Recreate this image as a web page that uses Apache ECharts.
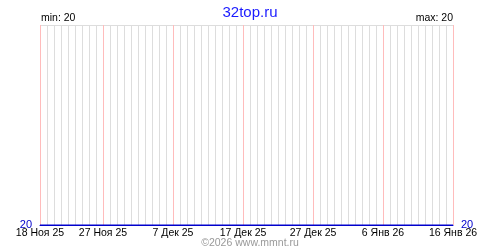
<!DOCTYPE html>
<html><head><meta charset="utf-8">
<script src="https://cdn.jsdelivr.net/npm/echarts@6/dist/echarts.min.js"></script>
<style>html,body{margin:0;padding:0;background:#fff}#c{width:500px;height:250px}</style>
</head><body><div id="c"></div>
<script>
var categories = [
 "18 Ноя 25","19 Ноя 25","20 Ноя 25","21 Ноя 25","22 Ноя 25","23 Ноя 25","24 Ноя 25","25 Ноя 25","26 Ноя 25","27 Ноя 25",
 "28 Ноя 25","29 Ноя 25","30 Ноя 25","1 Дек 25","2 Дек 25","3 Дек 25","4 Дек 25","5 Дек 25","6 Дек 25","7 Дек 25",
 "8 Дек 25","9 Дек 25","10 Дек 25","11 Дек 25","12 Дек 25","13 Дек 25","14 Дек 25","15 Дек 25","16 Дек 25","17 Дек 25",
 "18 Дек 25","19 Дек 25","20 Дек 25","21 Дек 25","22 Дек 25","23 Дек 25","24 Дек 25","25 Дек 25","26 Дек 25","27 Дек 25",
 "28 Дек 25","29 Дек 25","30 Дек 25","31 Дек 25","1 Янв 26","2 Янв 26","3 Янв 26","4 Янв 26","5 Янв 26","6 Янв 26",
 "7 Янв 26","8 Янв 26","9 Янв 26","10 Янв 26","11 Янв 26","12 Янв 26","13 Янв 26","14 Янв 26","15 Янв 26","16 Янв 26"
];
var values = [
 20,20,20,20,20,20,20,20,20,20,
 20,20,20,20,20,20,20,20,20,20,
 20,20,20,20,20,20,20,20,20,20,
 20,20,20,20,20,20,20,20,20,20,
 20,20,20,20,20,20,20,20,20,20,
 20,20,20,20,20,20,20,20,20,20
];
var tickLabels = ["18 Ноя 25","27 Ноя 25","7 Дек 25","17 Дек 25","27 Дек 25","6 Янв 26","16 Янв 26"];
var titleText = "32top.ru";
var minText = "min: 20";
var maxText = "max: 20";
var yLabel = 20;
var copyright = "©2026 www.mmnt.ru";

var font = "Liberation Sans";
var pink = '#ffbcbc';
var chart = echarts.init(document.getElementById('c'), null, {renderer: 'canvas'});
function isTick(i) { return tickLabels.indexOf(categories[i]) >= 0; }
var yAxisBase = {
  type: 'value', min: 20, max: 21, interval: 1,
  axisLine: {show: false}, axisTick: {show: false},
  splitLine: {show: true, lineStyle: {color: '#dddddd', width: 1}},
  axisLabel: {color: '#0000cc', fontFamily: font, fontSize: 11, margin: 8,
    formatter: function (v) { return v === yLabel ? String(v) : ''; }}
};
chart.setOption({
  animation: false,
  title: {text: titleText, left: 'center', top: 0,
    textStyle: {color: '#1a1aff', fontFamily: font, fontSize: 15, fontWeight: 'normal'}},
  grid: {left: 40, right: 47, top: 25, bottom: 25, containLabel: false},
  xAxis: [{
    type: 'category', data: categories, boundaryGap: false,
    axisLine: {show: true, lineStyle: {color: '#0000cc', width: 1}},
    axisTick: {show: false},
    splitLine: {show: true, interval: function (i) { return !isTick(i); }, lineStyle: {color: ['#dddddd'], width: 1}},
    axisLabel: {color: '#000', fontFamily: font, fontSize: 10.5, margin: 3,
      interval: function (i) { return isTick(i); }}
  }, {
    type: 'category', data: categories, boundaryGap: false, position: 'bottom',
    axisLine: {show: false}, axisTick: {show: false}, axisLabel: {show: false},
    splitLine: {show: true, interval: function (i) { return isTick(i); },
      lineStyle: {color: [pink, pink, pink, pink, pink, pink, pink], width: 1}}
  }],
  yAxis: [
    Object.assign({}, yAxisBase, {position: 'left'}),
    Object.assign({}, yAxisBase, {position: 'right', splitLine: {show: false}})
  ],
  series: [{
    type: 'line', data: values, showSymbol: false, symbol: 'none', xAxisIndex: 0,
    lineStyle: {color: '#0000cc', width: 1}, z: 5
  }],
  graphic: [
    {type: 'text', left: 41, top: 13, style: {text: minText, fill: '#000', font: '10.5px "' + font + '"'}},
    {type: 'text', right: 47, top: 13, style: {text: maxText, fill: '#000', font: '10.5px "' + font + '"'}},
    {type: 'text', left: 'center', top: 238, style: {text: copyright, fill: '#999999', font: '10.5px "' + font + '"'}}
  ]
});
</script></body></html>
